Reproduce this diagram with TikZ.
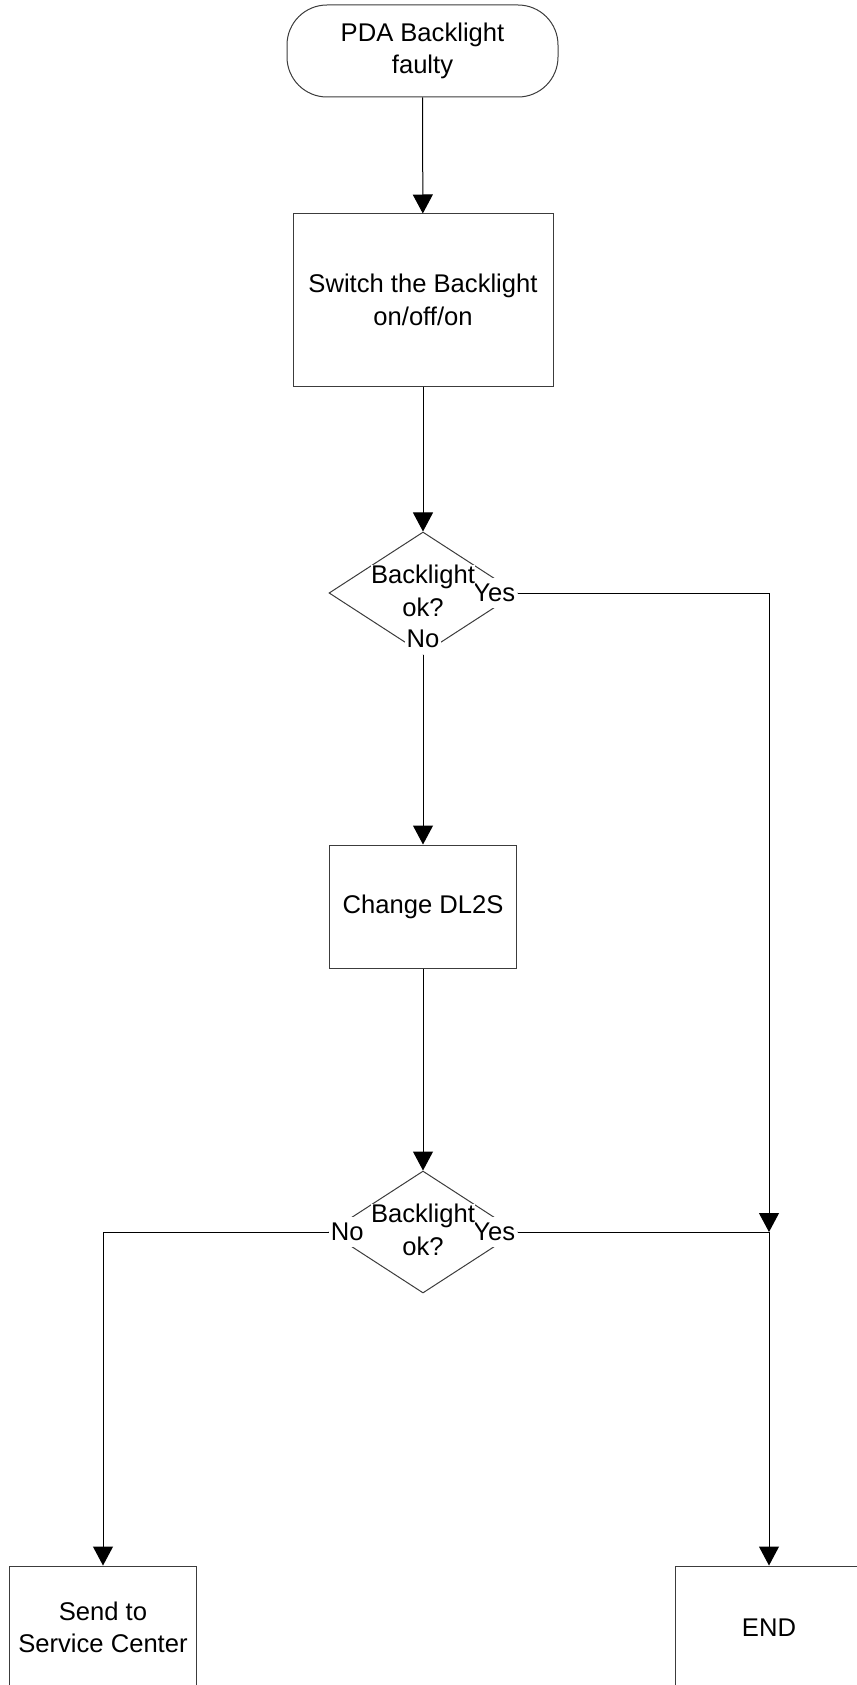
\documentclass[tikz,border=0pt]{standalone}
\usepackage{fontspec}
\setmainfont{Liberation Sans}
\usepackage{tikz}
\usetikzlibrary{arrows.meta,positioning,shapes.geometric}
\definecolor{edgex}{HTML}{3C3C3C}
\tikzset{
  ar/.style={-{Triangle[length=9.5pt,width=10pt]},line width=0.5pt,black},
  term/.style={draw=edgex,line width=0.5pt,rounded corners=20pt,align=center,minimum width=135.5pt,minimum height=46pt},
  procbox/.style={draw=edgex,line width=0.5pt,align=center,minimum width=93.5pt,minimum height=61.5pt},
  decision/.style={diamond,draw=edgex,line width=0.5pt,inner sep=0pt,minimum width=94pt,minimum height=61pt},
  dtext/.style={fill=white,inner sep=0pt,align=center},
  lbl/.style={fill=white,inner xsep=1pt,inner ysep=3pt}
}

\begin{document}
\begin{tikzpicture}[x=0.5pt,y=-0.5pt,font=\fontsize{12.8pt}{16.25pt}\selectfont]
\useasboundingbox (0,0) rectangle (856,1685);
\node[term] (start) at (422.5,51) {PDA Backlight\\faulty};
\node[procbox,minimum width=130pt,minimum height=86pt] (switch) at (423,300) {Switch the Backlight\\on/off/on};
\node[decision] (chk1) at (423,593) {};
\node[lbl,anchor=east] (yes1) at (chk1.east) {Yes};
\node[lbl,anchor=south] (no1) at (chk1.south) {No};
\node[dtext] (chk1t) at ([yshift=1pt]chk1.center) {Backlight\\ok?};
\node[procbox] (change) at (423,906.5) {Change DL2S};
\node[decision] (chk2) at (423,1232) {};
\node[lbl,anchor=east] (yes2) at (chk2.east) {Yes};
\node[lbl,anchor=west] (no2) at (chk2.west) {No};
\node[dtext] (chk2t) at ([yshift=1pt]chk2.center) {Backlight\\ok?};
\node[procbox] (send) at (103,1627.5) {Send to\\Service Center};
\node[procbox] (done) at (769,1627.5) {END};
\coordinate (join) at (done.north |- chk2.east);
\draw[ar] (start) -- (switch);
\draw[ar] (switch) -- (chk1);
\draw[ar] (no1) -- (change);
\draw[ar] (change) -- (chk2);
\draw[ar] (yes1.east) -| (join);
\draw[ar] (yes2.east) -- (join) -- (done);
\draw[ar] (no2.west) -| (send);
\end{tikzpicture}
\end{document}
